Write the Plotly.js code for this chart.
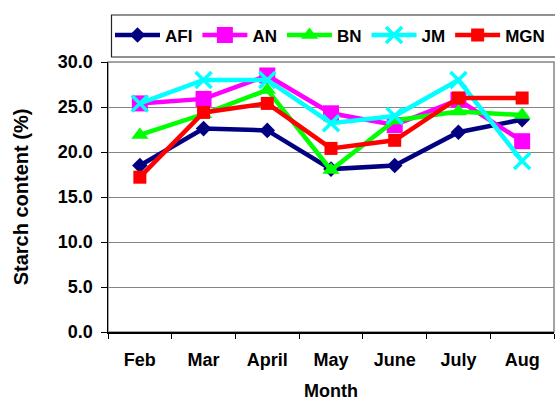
<!DOCTYPE html>
<html>
<head>
<meta charset="utf-8">
<script src="https://cdn.plot.ly/plotly-3.0.1.min.js"></script>
<style>
  html, body { margin: 0; padding: 0; background: #fff; }
  #chart { width: 555px; height: 401px; }
</style>
</head>
<body>
<div id="chart"></div>
<script>
// Monthly starch content (%) for five samples
const months = ["Feb", "Mar", "April", "May", "June", "July", "Aug"];
const AFI = [18.5, 22.6, 22.4, 18.1, 18.5, 22.2, 23.6];
const AN  = [25.4, 25.9, 28.5, 24.3, 23.0, 25.8, 21.2];
const BN  = [21.9, 24.2, 26.9, 18.0, 23.5, 24.5, 24.1];
const JM  = [25.4, 28.0, 28.0, 23.2, 24.0, 28.0, 19.0];
const MGN = [17.2, 24.4, 25.4, 20.4, 21.3, 26.0, 26.0];

const seriesNames = ["AFI", "AN", "BN", "JM", "MGN"];
const seriesValues = [AFI, AN, BN, JM, MGN];
const seriesColors = ["#000080", "#FF00FF", "#00FF00", "#00FFFF", "#FF0000"];
const seriesSymbols = ["diamond", "square", "triangle-up", "x-thin", "square"];
const seriesSizes = [12, 16, 15, 16, 13];

const FONT = "Liberation Sans, Arial, sans-serif";

const traces = seriesNames.map((name, i) => ({
  type: "scatter",
  mode: "lines+markers",
  name: name,
  x: months,
  y: seriesValues[i],
  line: { color: seriesColors[i], width: 4.5 },
  marker: {
    symbol: seriesSymbols[i],
    size: seriesSizes[i],
    color: seriesColors[i],
    line: { color: seriesColors[i], width: seriesSymbols[i] === "x-thin" ? 3.5 : 0 }
  }
}));

// plot area spans x 108..554, y 62..332 in pixels
const ML = 60, MR = 0, MT = 62, MB = 69, W = 555, H = 401;
const PW = W - ML - MR, PH = H - MT - MB;
const px = v => (v - ML) / PW;
const py = v => (H - MB - v) / PH;

const layout = {
  width: W,
  height: H,
  margin: { l: ML, r: MR, t: MT, b: MB, autoexpand: false },
  paper_bgcolor: "#ffffff",
  plot_bgcolor: "#ffffff",
  font: { family: FONT, size: 18, color: "#000", weight: 700 },
  showlegend: true,
  legend: {
    orientation: "h",
    x: px(110),
    xanchor: "left",
    y: py(35.5),
    yanchor: "middle",
    bgcolor: "rgba(0,0,0,0)",
    borderwidth: 0,
    font: { family: FONT, size: 17, color: "#000", weight: 700 },
    itemwidth: 45
  },
  xaxis: {
    type: "category",
    domain: [px(108), px(554)],
    range: [-0.5, 6.5],
    tickson: "boundaries",
    ticks: "outside",
    ticklen: 5,
    tickcolor: "#000",
    tickwidth: 1,
    showline: true,
    linecolor: "#000",
    linewidth: 1.5,
    showgrid: false,
    zeroline: false,
    ticklabelstandoff: 11,
    tickfont: { family: FONT, size: 18, color: "#000", weight: 700 },
    title: {
      text: "Month",
      standoff: 22,
      font: { family: FONT, size: 18, color: "#000", weight: 700 }
    }
  },
  yaxis: {
    range: [0, 30],
    dtick: 5,
    tick0: 0,
    tickformat: ".1f",
    ticks: "outside",
    ticklen: 6,
    tickcolor: "#000",
    tickwidth: 1,
    showline: true,
    linecolor: "#000",
    linewidth: 1.5,
    showgrid: true,
    gridcolor: "#858585",
    gridwidth: 1,
    zeroline: false,
    ticklabelstandoff: 4,
    tickfont: { family: FONT, size: 18, color: "#000", weight: 700 },
    title: {
      text: "Starch content (%)",
      standoff: 24,
      font: { family: FONT, size: 20, color: "#000", weight: 700 }
    }
  },
  shapes: [
    // plot-area frame (top and right edges in gray)
    {
      type: "rect", xref: "x domain", yref: "y domain",
      x0: 0, x1: 1, y0: 0, y1: 1,
      line: { color: "#858585", width: 1.5 },
      fillcolor: "rgba(0,0,0,0)",
      layer: "below"
    },
    // legend frame
    {
      type: "rect", xref: "paper", yref: "paper",
      x0: px(111.5), x1: px(570), y0: py(57), y1: py(15),
      line: { color: "#222", width: 1.2 },
      fillcolor: "rgba(0,0,0,0)",
      layer: "above"
    }
  ]
};

Plotly.newPlot("chart", traces, layout, { staticPlot: true, displayModeBar: false });
</script>
</body>
</html>
